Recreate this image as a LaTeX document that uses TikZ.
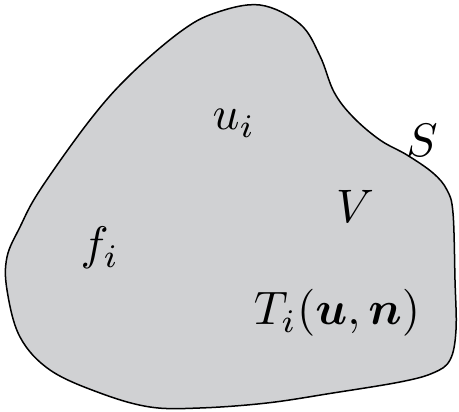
\documentclass[tikz,border=0pt]{standalone}
\usepackage{bm}
\begin{document}
\begin{tikzpicture}[x=1pt,y=1pt,
  lbl/.style={inner sep=0pt,anchor=base,scale=4.7}]
\useasboundingbox (0,0) rectangle (459,412);
\draw[line width=1.5pt,fill={rgb,255:red,208;green,209;blue,211},line join=round]
  plot[smooth cycle,tension=0.6] coordinates {
   (260,407) (300,388) (320,356) (334,320) (353,295) (380,272) (407,257)
   (433,239) (447,222) (453,199) (455,132) (456,82) (450,52) (433,39)
   (400,30) (333,19) (267,9) (200,4) (150,5) (100,19) (50,42) (20,75)
   (7,122) (7,155) (20,185) (40,222) (90,292) (130,337) (180,380) (215,399)};
\node[lbl] (ui) at (234,282) {$u_i$};
\node[lbl] (S) at (422,255) {$S$};
\node[lbl] (V) at (355,189) {$V$};
\node[lbl] (fi) at (100,152) {$f_i$};
\node[lbl] (T) at (337,87) {$T_i(\bm{u},\bm{n})$};
\end{tikzpicture}
\end{document}
